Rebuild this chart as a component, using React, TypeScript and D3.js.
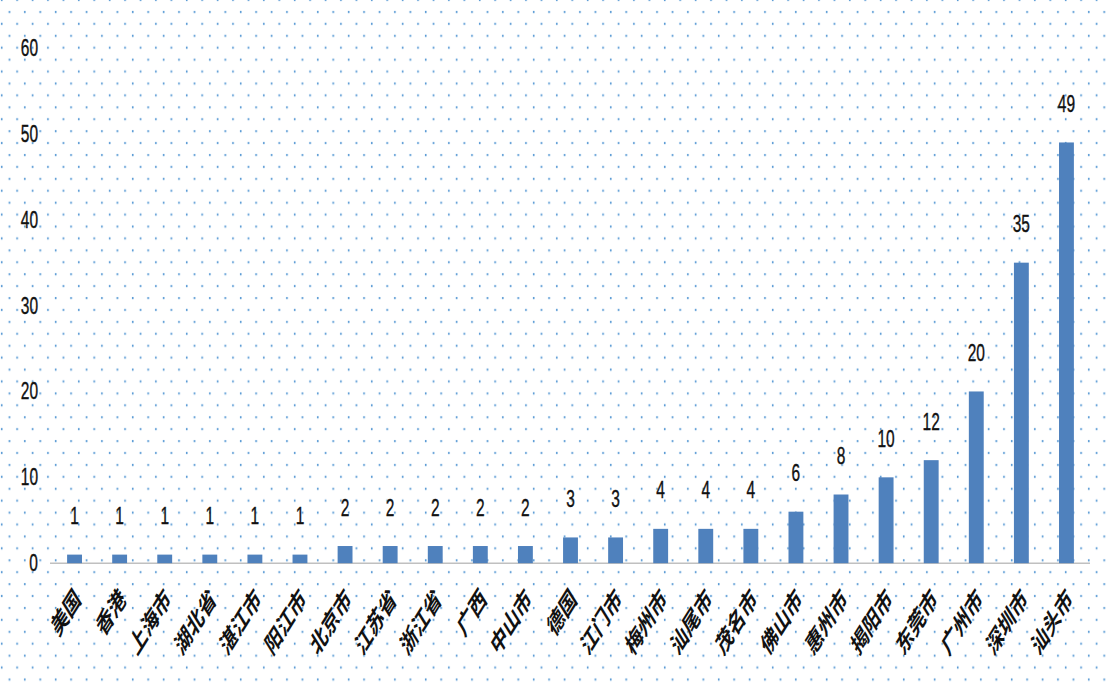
import { useMemo } from "react";
import * as d3 from "d3";

// values
const cities = [
  "美国", "香港", "上海市", "湖北省", "湛江市", "阳江市", "北京市", "江苏省",
  "浙江省", "广西", "中山市", "德国", "江门市", "梅州市", "汕尾市", "茂名市",
  "佛山市", "惠州市", "揭阳市", "东莞市", "广州市", "深圳市", "汕头市",
];
const counts = [1, 1, 1, 1, 1, 1, 2, 2, 2, 2, 2, 3, 3, 4, 4, 4, 6, 8, 10, 12, 20, 35, 49];
const yTicks = [0, 10, 20, 30, 40, 50, 60];

const WIDTH = 1110;
const HEIGHT = 688;
// the original picture is stretched vertically, so we draw flat and scale up
const STRETCH = 1.6;
const FLAT_H = HEIGHT / STRETCH;

const BAR = "#4f81bd";
const DOT = "#5b9bd5";

export default function App() {
  const xScale = useMemo(
    () =>
      d3
        .scaleBand()
        .domain(cities)
        .range([52, 1089])
        .paddingInner(0.67)
        .paddingOuter(0.335),
    []
  );

  const yScale = useMemo(() => d3.scaleLinear().domain([0, 60]).range([352, 30]), []);

  const bars = cities.map((city, i) => {
    const x = xScale(city)!;
    const v = counts[i];
    const cx = x + xScale.bandwidth() / 2;
    return (
      <g key={city}>
        <rect
          x={x}
          y={yScale(v)}
          width={xScale.bandwidth()}
          height={yScale(0) - yScale(v)}
          fill={BAR}
        />
        <text
          x={cx}
          y={yScale(v) - 19}
          textAnchor="middle"
          fontSize={15.5}
          fill="#111"
          stroke="#111"
          strokeWidth={0.25}
          fontFamily="'Liberation Sans', Arial, sans-serif"
        >
          {v}
        </text>
        <text
          transform={`translate(${cx + 2},${370}) rotate(-45)`}
          textAnchor="end"
          dominantBaseline="central"
          fontSize={16.5}
          fontWeight="bold"
          fill="#111"
          fontFamily="'Noto Sans CJK SC', sans-serif"
        >
          {city}
        </text>
      </g>
    );
  });

  const yLabels = yTicks.map((t) => (
    <text
      key={t}
      x={38}
      y={yScale(t) + 5}
      textAnchor="end"
      fontSize={15.5}
      fill="#111"
      stroke="#111"
      strokeWidth={0.25}
      fontFamily="'Liberation Sans', Arial, sans-serif"
    >
      {t}
    </text>
  ));

  return (
    <svg
      width={WIDTH}
      height={HEIGHT}
      style={{ position: "absolute", left: 0, top: 0, background: "#fff" }}
    >
      <defs>
        <pattern id="dots" patternUnits="userSpaceOnUse" width={15.42} height={14.9}>
          <rect x={8.6} y={6.8} width={1.6} height={1.4} fill={DOT} />
          <rect x={0.9} y={-0.7} width={1.6} height={1.4} fill={DOT} />
          <rect x={0.9} y={14.2} width={1.6} height={1.4} fill={DOT} />
        </pattern>
      </defs>
      <g transform={`scale(1,${STRETCH})`}>
        <rect x={0} y={0} width={WIDTH} height={FLAT_H} fill="url(#dots)" />
        <line x1={50} x2={1090} y1={yScale(0)} y2={yScale(0)} stroke="#c0c0c0" strokeWidth={0.9} />
        {yLabels}
        {bars}
      </g>
    </svg>
  );
}
